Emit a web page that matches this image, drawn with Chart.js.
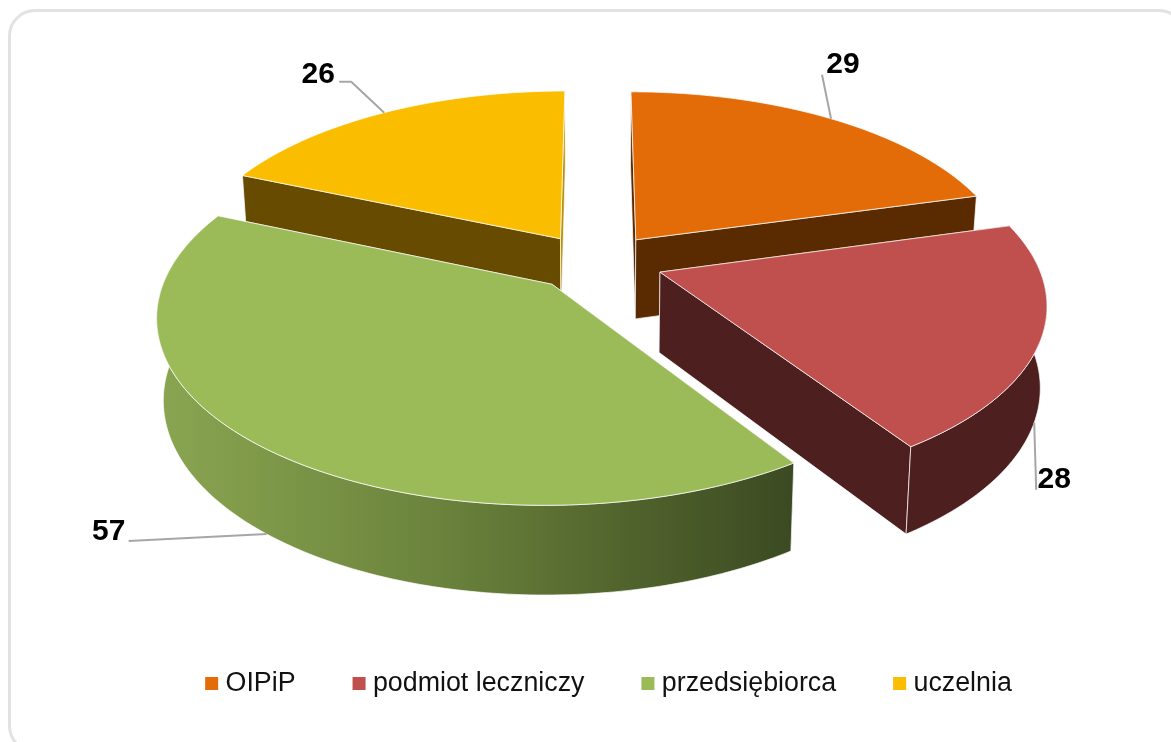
<!DOCTYPE html>
<html>
<head>
<meta charset="utf-8">
<script src="https://cdn.jsdelivr.net/npm/chart.js@4"></script>
<style>
html, body { margin: 0; padding: 0; background: #fff; overflow: hidden; width: 1171px; height: 742px; }
#frame { position: absolute; left: 8px; top: 9px; width: 1178px; height: 744px; box-sizing: border-box; border: 3px solid #e2e2e2; border-radius: 27px; }
#chart { position: absolute; left: 0; top: 0; filter: blur(0.4px); }
</style>
</head>
<body>
<div id="frame"></div>
<canvas id="chart" width="1171" height="742"></canvas>
<script>
const categories = ["OIPiP", "podmiot leczniczy", "przedsiębiorca", "uczelnia"];
const values = [29, 28, 57, 26];
const colors = ["#e36c09", "#c0504d", "#9bbb59", "#fbbd00"];
const wallColors = ["#5a2a00", "#4d1f1f", "#6f8a40", "#664b00"];
const endWallColors = ["#5a2a00", "#4d1f1f", "#6f8a40", "#b8920a"];
const explode = [16, 16, 16, 16]; // percent of the radius

// back to front
const drawOrder = [3, 0, 2, 1];

// perspective of the pie plane
const view = { cx: 600, cy: 262, rx: 377, ry: 178, k: 0.159, drop: 80, shrink: 0.985 };
const nudgeX = [0, 3, -8, -7];
const stretchX = [1, 1, 1.012, 1];

// green side is shaded left to right
const greenStops = [[0, "#8aa552"], [0.2, "#7c9647"], [0.45, "#6a823c"], [0.75, "#50622c"], [1, "#3b4a22"]];

// label and leader positions, relative to where the leader meets the slice
const labelOffset = [[12, -54], [20, 57], [-158, -2], [-66, -38]];
const leaderOffset = [
    [[-9, -44]],
    [[2, 67]],
    [[-138, 7]],
    [[-33, -31], [-45, -31]]
];

function project(u, v, i) {
    const w = 1 - view.k * v;
    return { x: view.cx + nudgeX[i] + view.rx * stretchX[i] * u / w, y: view.cy + view.ry * v / w };
}

function lower(p) {
    return {
        x: view.cx + (p.x - view.cx) * view.shrink,
        y: p.y + view.drop + (p.y - view.cy) * 0.04
    };
}

function trace(ctx, pts) {
    pts.forEach((p, i) => i ? ctx.lineTo(p.x, p.y) : ctx.moveTo(p.x, p.y));
}

function drawSlice(ctx, arc, i) {
    const mid = (arc.startAngle + arc.endAngle) / 2;
    const d = arc.options.offset / 100;
    const ou = d * Math.cos(mid), ov = d * Math.sin(mid);
    const apex = project(ou, ov, i);
    const steps = Math.ceil((arc.endAngle - arc.startAngle) * 60);
    const rim = [], front = [];
    for (let s = 0; s <= steps; s++) {
        const a = arc.startAngle + (arc.endAngle - arc.startAngle) * s / steps;
        const p = project(ou + Math.cos(a), ov + Math.sin(a), i);
        rim.push(p);
        if (Math.sin(a) > -0.15) front.push(p);
    }
    const first = rim[0], last = rim[rim.length - 1];

    ctx.lineWidth = 1;
    ctx.lineJoin = "round";
    ctx.strokeStyle = "rgba(255,255,255,0.7)";

    // straight sides
    [first, last].forEach((p, n) => {
        ctx.fillStyle = n ? endWallColors[i] : wallColors[i];
        ctx.beginPath();
        trace(ctx, [apex, p, lower(p), lower(apex)]);
        ctx.closePath();
        ctx.fill();
        ctx.stroke();
    });

    // outer side, only the part facing us
    if (front.length > 1) {
        ctx.fillStyle = wallColors[i];
        if (i === 2) {
            const g = ctx.createLinearGradient(Math.min(...rim.map(p => p.x)), 0, Math.max(...rim.map(p => p.x)), 0);
            greenStops.forEach(s => g.addColorStop(s[0], s[1]));
            ctx.fillStyle = g;
        }
        ctx.beginPath();
        trace(ctx, front.concat(front.map(lower).reverse()));
        ctx.closePath();
        ctx.fill();
        ctx.stroke();
    }

    // top face
    ctx.fillStyle = arc.options.backgroundColor;
    ctx.beginPath();
    trace(ctx, [apex].concat(rim));
    ctx.closePath();
    ctx.fill();
    ctx.stroke();
}

function drawLabel(ctx, arc, i) {
    const mid = (arc.startAngle + arc.endAngle) / 2;
    const d = arc.options.offset / 100;
    let p = project((1 + d) * Math.cos(mid), (1 + d) * Math.sin(mid), i);
    if (Math.sin(mid) > 0) p = lower(p); // front slices: leader starts on the bottom edge

    ctx.strokeStyle = "#a6a6a6";
    ctx.lineWidth = 2;
    ctx.beginPath();
    ctx.moveTo(p.x, p.y);
    leaderOffset[i].forEach(o => ctx.lineTo(p.x + o[0], p.y + o[1]));
    ctx.stroke();

    ctx.fillStyle = "#000";
    ctx.font = "bold 30px 'Liberation Sans', Arial, sans-serif";
    ctx.textAlign = "center";
    ctx.textBaseline = "middle";
    ctx.fillText(values[i], p.x + labelOffset[i][0], p.y + labelOffset[i][1]);
}

const pie3d = {
    id: "pie3d",
    beforeDatasetsDraw(chart) {
        const ctx = chart.ctx;
        const arcs = chart.getDatasetMeta(0).data;
        ctx.save();
        drawOrder.forEach(i => drawSlice(ctx, arcs[i], i));
        drawOrder.forEach(i => drawLabel(ctx, arcs[i], i));
        ctx.restore();
        return false;
    }
};

new Chart(document.getElementById("chart"), {
    type: "pie",
    plugins: [pie3d],
    data: {
        labels: categories,
        datasets: [{
            data: values,
            backgroundColor: colors,
            borderColor: colors,
            borderWidth: 12,
            offset: explode
        }]
    },
    options: {
        responsive: false,
        animation: false,
        layout: { padding: { left: 52, bottom: 35 } },
        plugins: {
            tooltip: { enabled: false },
            legend: {
                position: "bottom",
                labels: {
                    boxWidth: 1,
                    boxHeight: 1,
                    padding: 63,
                    color: "#111",
                    font: { family: "'Liberation Sans', Arial, sans-serif", size: 26.8 }
                }
            }
        }
    }
});
</script>
</body>
</html>
